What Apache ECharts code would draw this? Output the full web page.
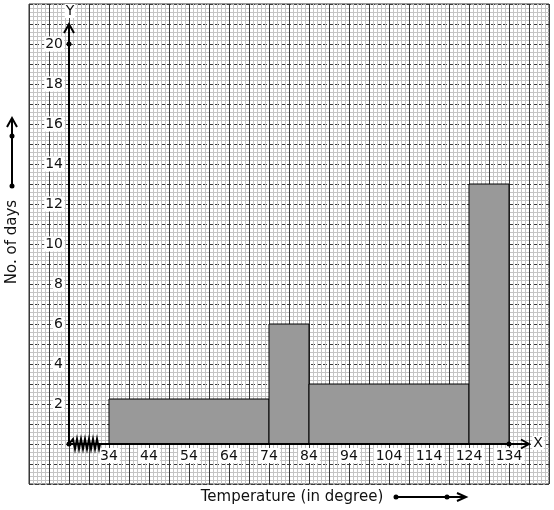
<!DOCTYPE html>
<html>
<head>
<meta charset="utf-8">
<script src="https://cdn.jsdelivr.net/npm/echarts@6/dist/echarts.min.js"></script>
<style>
  html, body { margin: 0; padding: 0; background: #fff; }
  #chart { width: 554px; height: 510px; }
</style>
</head>
<body>
<div id="chart"></div>
<script>
// class intervals (lower, upper) and number of days
var classLower = [34, 74, 84, 124];
var classUpper = [74, 84, 124, 134];
var dayCounts = [2.25, 6, 3, 13];

// tick labels
var xTicks = [34, 44, 54, 64, 74, 84, 94, 104, 114, 124, 134];
var yTicks = [2, 4, 6, 8, 10, 12, 14, 16, 18, 20];

// axis decoration values
var originX = 24;
var xArrowEnd = 139;
var yArrowEnd = 21;

var font = "DejaVu Sans";
var myChart = echarts.init(document.getElementById("chart"));

var barData = [];
for (var i = 0; i < dayCounts.length; i++) {
  barData.push([classLower[i], classUpper[i], dayCounts[i]]);
}

function zigzag(api) {
  var a = api.coord([25, 0]);
  var b = api.coord([31.5, 0]);
  var pts = [];
  var n = 13;
  for (var k = 0; k <= n; k++) {
    var x = a[0] + (b[0] - a[0]) * k / n;
    var y = a[1] + (k % 2 === 0 ? -5 : 5);
    pts.push([x, y]);
  }
  pts.unshift([a[0] - 4, a[1]]);
  pts.push([b[0] + 1, a[1]]);
  return pts;
}

function renderAxes(params, api) {
  var o = api.coord([originX, 0]);
  var xe = api.coord([xArrowEnd, 0]);
  var ye = api.coord([originX, yArrowEnd]);
  var d20 = api.coord([originX, 20]);
  var d134 = api.coord([134, 0]);
  var line = { stroke: "#000", lineWidth: 2, fill: null };
  return {
    type: "group",
    children: [
      { type: "line", shape: { x1: o[0], y1: o[1], x2: xe[0], y2: xe[1] }, style: line },
      { type: "line", shape: { x1: o[0], y1: o[1], x2: ye[0], y2: ye[1] }, style: line },
      { type: "polyline", shape: { points: [[xe[0] - 8, xe[1] - 4.5], [xe[0], xe[1]], [xe[0] - 8, xe[1] + 4.5]] }, style: line },
      { type: "polyline", shape: { points: [[ye[0] - 5, ye[1] + 9], [ye[0], ye[1]], [ye[0] + 5, ye[1] + 9]] }, style: line },
      { type: "polyline", shape: { points: zigzag(api) }, style: line },
      { type: "circle", shape: { cx: o[0], cy: o[1], r: 2.5 }, style: { fill: "#000" } },
      { type: "circle", shape: { cx: d20[0], cy: d20[1], r: 2.5 }, style: { fill: "#000" } },
      { type: "circle", shape: { cx: d134[0], cy: d134[1], r: 2.5 }, style: { fill: "#000" } },
      { type: "text", x: ye[0] + 1, y: ye[1] - 13, style: { text: "Y", fill: "#111", font: "14px " + font, align: "center", verticalAlign: "middle", backgroundColor: "#fff", padding: [0, 1] } },
      { type: "text", x: xe[0] + 9, y: xe[1] - 1, style: { text: "X", fill: "#111", font: "14px " + font, align: "center", verticalAlign: "middle", backgroundColor: "#fff", padding: [0, 1] } }
    ]
  };
}

var option = {
  animation: false,
  backgroundColor: "#fff",
  grid: { left: 29, top: 4, width: 520, height: 480, show: true, borderColor: "#333", borderWidth: 1 },
  xAxis: [
    {
      type: "value",
      min: 14,
      max: 144,
      offset: -40,
      axisLine: { show: false, onZero: false },
      axisTick: { show: false },
      splitLine: { show: false },
      axisLabel: {
        customValues: xTicks,
        margin: 4,
        color: "#111",
        fontSize: 14,
        fontFamily: font,
        backgroundColor: "#fff",
        padding: [1, 2, 0, 2]
      }
    },
    {
      type: "value",
      position: "top",
      min: 0,
      max: 130,
      interval: 5,
      axisLine: { show: false },
      axisTick: { show: false },
      axisLabel: { show: false },
      splitLine: { show: true, lineStyle: { color: "#3a3a3a", width: 1 } },
      minorTick: { show: false, splitNumber: 5 },
      minorSplitLine: { show: true, lineStyle: { color: "#c4c4c4", width: 1 } }
    }
  ],
  yAxis: [
    {
      type: "value",
      min: -2,
      max: 22,
      interval: 1,
      offset: -40,
      axisLine: { show: false },
      axisTick: { show: false },
      axisLabel: {
        customValues: yTicks,
        margin: 5,
        color: "#111",
        fontSize: 14,
        fontFamily: font,
        backgroundColor: "#fff",
        padding: [1, 1, 0, 1]
      },
      splitLine: { show: true, lineStyle: { color: "#3a3a3a", width: 1, type: [4, 2] } },
      minorTick: { show: false, splitNumber: 5 },
      minorSplitLine: { show: true, lineStyle: { color: "#c4c4c4", width: 1 } }
    }
  ],
  graphic: [
    { type: "text", x: 12, y: 242, rotation: Math.PI / 2, style: { text: "No. of days", fill: "#111", font: "15px " + font, align: "center", verticalAlign: "middle" } },
    { type: "text", x: 292, y: 497, style: { text: "Temperature (in degree)", fill: "#111", font: "15px " + font, align: "center", verticalAlign: "middle" } },
    { type: "line", shape: { x1: 12, y1: 186, x2: 12, y2: 118 }, style: { stroke: "#000", lineWidth: 2 } },
    { type: "polyline", shape: { points: [[7, 127], [12, 118], [17, 127]] }, style: { stroke: "#000", lineWidth: 2, fill: null } },
    { type: "circle", shape: { cx: 12, cy: 136, r: 2.5 }, style: { fill: "#000" } },
    { type: "circle", shape: { cx: 12, cy: 186, r: 2.5 }, style: { fill: "#000" } },
    { type: "line", shape: { x1: 396, y1: 497, x2: 466, y2: 497 }, style: { stroke: "#000", lineWidth: 2 } },
    { type: "polyline", shape: { points: [[457, 493], [466, 497], [457, 501]] }, style: { stroke: "#000", lineWidth: 2, fill: null } },
    { type: "circle", shape: { cx: 396, cy: 497, r: 2.5 }, style: { fill: "#000" } },
    { type: "circle", shape: { cx: 447, cy: 497, r: 2.5 }, style: { fill: "#000" } }
  ],
  series: [
    {
      name: "No. of days",
      type: "custom",
      xAxisIndex: 0,
      yAxisIndex: 0,
      encode: { x: [0, 1], y: 2 },
      data: barData,
      renderItem: function (params, api) {
        var p0 = api.coord([api.value(0), 0]);
        var p1 = api.coord([api.value(1), api.value(2)]);
        return {
          type: "rect",
          shape: { x: p0[0], y: p1[1], width: p1[0] - p0[0], height: p0[1] - p1[1] },
          style: { fill: "#999999", stroke: "#000", lineWidth: 1 }
        };
      }
    },
    {
      name: "axes",
      type: "custom",
      xAxisIndex: 0,
      yAxisIndex: 0,
      silent: true,
      z: 5,
      data: [[originX, 0]],
      renderItem: renderAxes
    }
  ]
};

myChart.setOption(option);
</script>
</body>
</html>
